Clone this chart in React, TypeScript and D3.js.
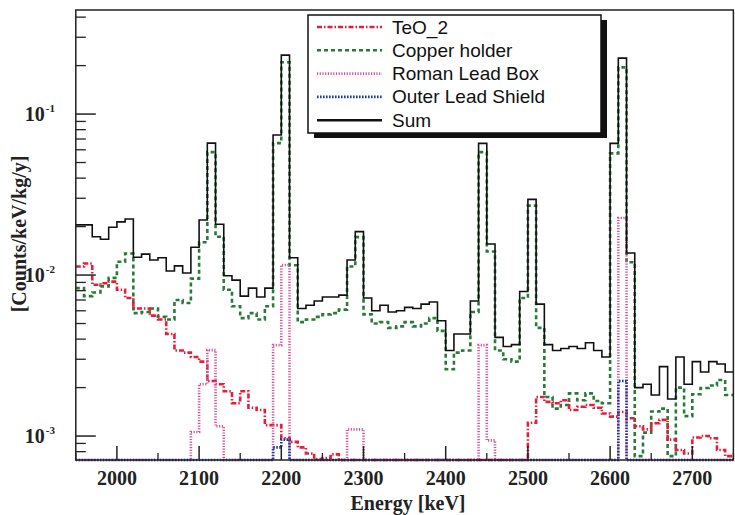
import React from "react";
import * as d3 from "d3";

// Energy bins: 10 keV wide, starting at 1950 keV (80 bins)
const binStart = 1950;
const binWidth = 10;

const sumCounts = [
  0.0205, 0.0205, 0.0173, 0.0167, 0.0198, 0.0214, 0.0223, 0.0129, 0.0135, 0.0124,
  0.0128, 0.0106, 0.0114, 0.0103, 0.0149, 0.022, 0.066, 0.0207, 0.0099, 0.0093,
  0.0074, 0.0083, 0.0073, 0.0083, 0.0741, 0.2325, 0.0128, 0.0062, 0.0065, 0.0069,
  0.0073, 0.0073, 0.0075, 0.0124, 0.0186, 0.0072, 0.006, 0.0065, 0.0059, 0.006,
  0.0063, 0.0062, 0.0066, 0.0068, 0.0052, 0.0034, 0.0043, 0.0043, 0.0069, 0.0658,
  0.0156, 0.0041, 0.0036, 0.0037, 0.0079, 0.0295, 0.0066, 0.0037, 0.0034, 0.0035,
  0.0036, 0.0035, 0.0038, 0.0034, 0.0031, 0.0658, 0.2227, 0.0137, 0.002, 0.0021,
  0.0018, 0.0027, 0.0017, 0.0031, 0.0021, 0.0029, 0.0025, 0.0029, 0.0028, 0.0025,
];

const copperHolder = [
  0.0083, 0.0074, 0.0078, 0.0085, 0.0096, 0.0121, 0.0136, 0.0058, 0.0059, 0.0062,
  0.0055, 0.0053, 0.007, 0.0067, 0.0095, 0.016, 0.058, 0.0173, 0.0081, 0.0064,
  0.0054, 0.0058, 0.0053, 0.0064, 0.066, 0.21, 0.0115, 0.0051, 0.0053, 0.0055,
  0.0057, 0.0058, 0.0061, 0.0113, 0.0172, 0.0057, 0.005, 0.0051, 0.0047, 0.0048,
  0.0051, 0.0048, 0.005, 0.0054, 0.0045, 0.0026, 0.0033, 0.0034, 0.0059, 0.058,
  0.014, 0.0034, 0.003, 0.0029, 0.0072, 0.027, 0.0047, 0.00175, 0.00148, 0.00156,
  0.00184, 0.00167, 0.00184, 0.00165, 0.0016, 0.057, 0.195, 0.012, 0.00075, 0.00105,
  0.00142, 0.00148, 0.00075, 0.002, 0.00133, 0.00182, 0.00199, 0.00206, 0.00223, 0.0018,
];

const teo2 = [
  0.0113, 0.0118, 0.0087, 0.0089, 0.0091, 0.0081, 0.0072, 0.0062, 0.0062, 0.0056,
  0.0053, 0.0043, 0.0034, 0.0033, 0.0031, 0.0029, 0.0022, 0.0021, 0.0019, 0.0016,
  0.0019, 0.0015, 0.00145, 0.00117, 0.00117, 0.00097, 0.00092, 0.00085, 0.00078, 0.00072,
  0.00073, 0.00077, 0, 0, 0, 0, 0, 0, 0, 0,
  0, 0, 0, 0, 0, 0, 0, 0, 0, 0,
  0, 0, 0, 0, 0, 0.00121, 0.00175, 0.00163, 0.0016, 0.00167,
  0.00145, 0.00152, 0.00156, 0.0015, 0.00138, 0.00132, 0.00141, 0.00129, 0.00115, 0.0011,
  0.0012, 0.00126, 0.00095, 0.00082, 0.00078, 0.00098, 0.001, 0.00097, 0.00082, 0.00075,
];

const romanLeadBox = [
  0, 0, 0, 0, 0, 0, 0, 0, 0, 0,
  0, 0, 0, 0, 0.00106, 0.0021, 0.00342, 0.00115, 0, 0,
  0, 0, 0, 0, 0.00367, 0.01154, 0, 0, 0, 0,
  0, 0, 0, 0.0011, 0.0011, 0, 0, 0, 0, 0,
  0, 0, 0, 0, 0, 0, 0, 0, 0, 0.00367,
  0.00094, 0, 0, 0, 0, 0, 0, 0, 0, 0,
  0, 0, 0, 0, 0, 0, 0.0226, 0, 0, 0,
  0, 0, 0, 0, 0, 0, 0, 0, 0, 0,
];

const outerLeadShield = [
  0, 0, 0, 0, 0, 0, 0, 0, 0, 0,
  0, 0, 0, 0, 0, 0, 0, 0, 0, 0,
  0, 0, 0, 0, 0.00085, 0.00095, 0, 0, 0, 0,
  0, 0, 0, 0, 0, 0, 0, 0, 0, 0,
  0, 0, 0, 0, 0, 0, 0, 0, 0, 0,
  0, 0, 0, 0, 0, 0, 0, 0, 0, 0,
  0, 0, 0, 0, 0, 0, 0.0022, 0, 0, 0,
  0, 0, 0, 0, 0, 0, 0, 0, 0, 0,
];

const xTickValues = [2000, 2100, 2200, 2300, 2400, 2500, 2600, 2700];
const yDecades = [-3, -2, -1];

const legendLabels = ["TeO_2", "Copper holder", "Roman Lead Box", "Outer Lead Shield", "Sum"];

const W = 735;
const H = 515;
const left = 75.8;
const right = 733.4;
const top = 10;
const bottom = 460;

const x = d3.scaleLinear().domain([1950, 2750]).range([left, right]);
const y = d3.scaleLog().domain([7.1e-4, 0.443]).range([bottom, top]);

const yc = (v: number) => {
  if (!(v > 0)) return bottom;
  return Math.max(top, Math.min(bottom, y(v)));
};

function stepPath(vals: number[]) {
  const pts: [number, number][] = [];
  vals.forEach((v, k) => {
    const e0 = binStart + k * binWidth;
    pts.push([x(e0), yc(v)]);
    pts.push([x(e0 + binWidth), yc(v)]);
  });
  return d3.line()(pts) || "";
}

const styles = [
  { color: "#e41f3c", dash: "5 2 1.5 2", width: 2.6 },
  { color: "#2a7a3a", dash: "4 3", width: 2.6 },
  { color: "#d4559a", dash: "1.2 1.5", width: 2.6 },
  { color: "#1c3c9c", dash: "1.6 1.4", width: 2.6 },
  { color: "#111111", dash: "none", width: 1.6 },
];

export default function App() {
  const series = [teo2, copperHolder, romanLeadBox, outerLeadShield, sumCounts];
  const drawOrder = [1, 0, 2, 3, 4];

  const minorTicks: number[] = [];
  for (let d = -4; d <= 0; d++) {
    for (let m = 2; m <= 9; m++) {
      const v = m * Math.pow(10, d);
      if (v >= 7.1e-4 && v <= 0.443) minorTicks.push(v);
    }
  }
  const xMinor: number[] = [];
  for (let e = 1950; e <= 2750; e += 50) if (e % 100 !== 0) xMinor.push(e);

  const legX = 308;
  const legY = 15;
  const legW = 293;
  const legH = 118;

  return (
    <svg
      width={W}
      height={H}
      style={{ position: "absolute", left: 0, top: 0, background: "#fff" }}
      fontFamily="'Liberation Serif', 'Times New Roman', serif"
    >
      <rect x={0} y={0} width={W} height={H} fill="#fff" />
      <defs>
        <clipPath id="plotclip">
          <rect x={left} y={top - 2} width={right - left} height={bottom - top + 4} />
        </clipPath>
      </defs>

      {/* histograms */}
      <g clipPath="url(#plotclip)">
        {drawOrder.map((i) => (
          <path
            key={i}
            d={stepPath(series[i])}
            fill="none"
            stroke={styles[i].color}
            strokeWidth={styles[i].width}
            strokeDasharray={styles[i].dash}
          />
        ))}
      </g>

      {/* frame */}
      <rect x={left} y={top} width={right - left} height={bottom - top} fill="none" stroke="#222" strokeWidth={1.5} />

      {/* y ticks */}
      {yDecades.map((d) => (
        <line key={"yM" + d} x1={left} x2={left + 20} y1={y(Math.pow(10, d))} y2={y(Math.pow(10, d))} stroke="#222" strokeWidth={1.5} />
      ))}
      {minorTicks.map((v, i) => (
        <line key={"ym" + i} x1={left} x2={left + 10} y1={y(v)} y2={y(v)} stroke="#222" strokeWidth={1.3} />
      ))}
      {yDecades.map((d) => (
        <text key={"yl" + d} x={55} y={y(Math.pow(10, d)) + 7} textAnchor="end" fontWeight="bold" fontSize={20} fill="#222">
          10
          <tspan dy={-9} fontSize={11} dx={1}>{String(d)}</tspan>
        </text>
      ))}

      {/* x ticks */}
      {xTickValues.map((e) => (
        <line key={"xM" + e} x1={x(e)} x2={x(e)} y1={bottom} y2={bottom - 14} stroke="#222" strokeWidth={1.5} />
      ))}
      {xMinor.map((e) => (
        <line key={"xm" + e} x1={x(e)} x2={x(e)} y1={bottom} y2={bottom - 7} stroke="#222" strokeWidth={1.3} />
      ))}
      {xTickValues.map((e) => (
        <text key={"xl" + e} x={x(e)} y={485} textAnchor="middle" fontWeight="bold" fontSize={20} fill="#222">
          {e}
        </text>
      ))}

      {/* axis titles */}
      <text x={408} y={510} textAnchor="middle" fontWeight="bold" fontSize={20} fill="#222">
        Energy [keV]
      </text>
      <text
        transform={`translate(26, 234) rotate(-90)`}
        textAnchor="middle"
        fontWeight="bold"
        fontSize={20}
        fill="#222"
      >
        [Counts/keV/kg/y]
      </text>

      {/* legend */}
      <rect x={legX + 6} y={legY + 5} width={legW} height={legH} fill="#111" />
      <rect x={legX} y={legY} width={legW} height={legH} fill="#fff" stroke="#111" strokeWidth={1.5} />
      {legendLabels.map((lab, i) => {
        const base = 33.5 + i * 23.3;
        return (
          <g key={lab}>
            <line
              x1={317}
              x2={382}
              y1={base - 6.5}
              y2={base - 6.5}
              stroke={styles[i].color}
              strokeWidth={i === 4 ? 2.4 : styles[i].width}
              strokeDasharray={styles[i].dash}
            />
            <text x={392} y={base} fontFamily="'Liberation Sans', Arial, sans-serif" fontSize={19} fill="#111">
              {lab}
            </text>
          </g>
        );
      })}
    </svg>
  );
}
